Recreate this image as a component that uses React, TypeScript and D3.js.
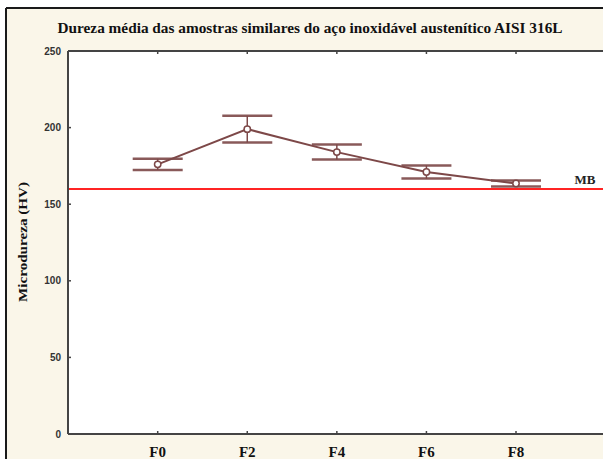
import React from "react";
import * as d3 from "d3";

const categories = ["F0", "F2", "F4", "F6", "F8"];
const means = [176, 199, 184, 171, 163.5];
const errors = [3.6, 8.7, 4.9, 4.3, 2.0];
const yTicks = [0, 50, 100, 150, 200, 250];
const referenceValue = 160;
const referenceLabel = "MB";
const title = "Dureza média das amostras similares do aço inoxidável austenítico AISI 316L";
const yLabel = "Microdureza (HV)";

export default function App() {
  const W = 603, H = 459;
  const left = 68, top = 51, bottom = 434, right = 610;
  const x = d3.scalePoint<string>().domain(categories).range([157.7, 516]);
  const y = d3.scaleLinear().domain([0, 250]).range([bottom, top]);
  const line = d3.line<number>().x((_, i) => x(categories[i])!).y((d) => y(d));
  const c = "#7d4848";
  const serif = "'Liberation Serif', 'DejaVu Serif', serif";
  const sans = "'Liberation Sans', Arial, sans-serif";
  return (
    <svg width={W} height={H} style={{ position: "absolute", left: 0, top: 0, display: "block" }}>
      <rect x={0} y={0} width={W} height={H} fill="#ffffff" />
      <rect x={6} y={8} width={W} height={H} fill="#faf6e9" />
      <line x1={6} y1={8} x2={W} y2={8} stroke="#1a1a1a" strokeWidth={2} />
      <line x1={6} y1={8} x2={6} y2={H} stroke="#1a1a1a" strokeWidth={2} />
      <text x={310} y={33} textAnchor="middle" fontFamily={serif} fontWeight="bold" fontSize={14.5}
        textLength={505} lengthAdjust="spacingAndGlyphs" fill="#111">{title}</text>
      <rect x={left} y={top} width={right - left} height={bottom - top} fill="#ffffff" />
      {/* red reference line */}
      <line x1={left} x2={W} y1={y(referenceValue)} y2={y(referenceValue)} stroke="#ff2424" strokeWidth={2} />
      <text x={585} y={184} textAnchor="middle" fontFamily={serif} fontWeight="bold" fontSize={13} fill="#222">{referenceLabel}</text>
      {/* axes frame */}
      <line x1={left} x2={right} y1={top} y2={top} stroke="#444" strokeWidth={2} />
      <line x1={left} x2={right} y1={bottom} y2={bottom} stroke="#444" strokeWidth={2} />
      <line x1={left} x2={left} y1={top} y2={bottom} stroke="#444" strokeWidth={2} />
      {yTicks.map((t) => (
        <g key={t}>
          <line x1={left} x2={left + 3} y1={y(t)} y2={y(t)} stroke="#444" strokeWidth={1.5} />
          <text x={61} y={y(t) + 3.5} textAnchor="end" fontFamily={sans} fontWeight="bold" fontSize={10} fill="#333">{t}</text>
        </g>
      ))}
      {categories.map((cat) => (
        <g key={cat}>
          <line x1={x(cat)} x2={x(cat)} y1={bottom} y2={bottom - 3} stroke="#444" strokeWidth={1.5} />
          <line x1={x(cat)} x2={x(cat)} y1={top} y2={top + 3} stroke="#444" strokeWidth={1.5} />
          <text x={x(cat)} y={457} textAnchor="middle" fontFamily={serif} fontWeight="bold" fontSize={15} fill="#111">{cat}</text>
        </g>
      ))}
      <text transform={`translate(27,242) rotate(-90)`} textAnchor="middle" fontFamily={serif} fontWeight="bold"
        fontSize={13} textLength={120} lengthAdjust="spacingAndGlyphs" fill="#111">{yLabel}</text>
      {/* error bars */}
      {categories.map((cat, i) => {
        const cx = x(cat)!;
        const hi = y(means[i] + errors[i]);
        const lo = y(means[i] - errors[i]);
        return (
          <g key={cat}>
            <line x1={cx} x2={cx} y1={hi} y2={lo} stroke={c} strokeWidth={1.5} />
            <line x1={cx - 25} x2={cx + 25} y1={hi} y2={hi} stroke={c} strokeWidth={2.5} opacity={0.9} />
            <line x1={cx - 25} x2={cx + 25} y1={lo} y2={lo} stroke={c} strokeWidth={2.5} opacity={0.9} />
          </g>
        );
      })}
      <path d={line(means)!} fill="none" stroke={c} strokeWidth={2} />
      {categories.map((cat, i) => (
        <circle key={cat} cx={x(cat)} cy={y(means[i])} r={3.2} fill="#fff" stroke={c} strokeWidth={1.5} />
      ))}
    </svg>
  );
}
